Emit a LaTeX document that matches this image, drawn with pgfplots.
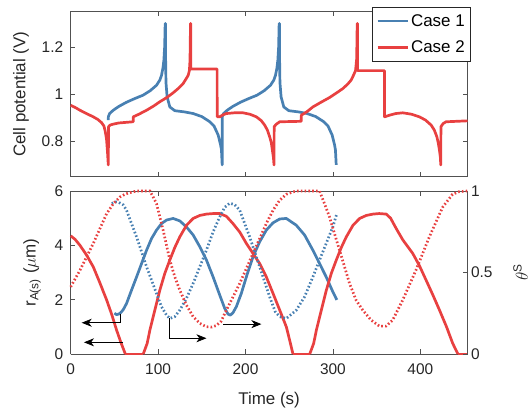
\documentclass[border=0pt]{standalone}
\usepackage{fontspec}
\setmainfont{Liberation Sans}
\usepackage{pgfplots}
\pgfplotsset{compat=1.18}
\usetikzlibrary{arrows.meta}

\definecolor{caseone}{RGB}{72,128,178}
\definecolor{casetwo}{RGB}{232,64,64}
\definecolor{axgray}{RGB}{38,38,38}

\pgfplotsset{
  matlab/.style={
    scale only axis, width=396.8bp, xmin=0, xmax=454,
    tick align=inside, major tick length=4.5bp,
    axis line style={axgray!80, line width=0.6bp},
    every tick/.style={axgray!80, line width=0.6bp},
    tick label style={font=\fontsize{15.5}{18}\selectfont, text=axgray},
    label style={font=\fontsize{17}{20}\selectfont, text=axgray},
    xticklabel style={yshift=-6bp},
    xlabel style={yshift=-11bp},
    /pgf/number format/assume math mode=true,
    xtick={0,100,...,400},
    clip=false,
  },
  cv/.style={line width=2.7bp, line join=round},
  dots/.style={line width=2.7bp, dash pattern=on 1.6bp off 2.2bp},
}
\tikzset{arr/.style={-{Stealth[length=10bp, width=8bp, inset=3bp]}, line width=0.7bp, black}}

\begin{document}
\begin{tikzpicture}
\path[use as bounding box] (0,0) rectangle (531bp,417bp);

% ---- top: cell potential
\begin{axis}[matlab, at={(70.7bp,240.3bp)}, anchor=south west, height=165bp,
  ymin=0.65, ymax=1.35, ytick={0.8,1,1.2}, xticklabels={},
  xtick pos=both, ytick pos=both,
  yticklabel style={xshift=-4bp},
  ylabel={Cell potential (V)}, ylabel style={yshift=6bp},
  legend style={at={(1.0088,1.0285)}, anchor=north east, draw=axgray,
    line width=0.6bp, font=\fontsize{17}{20}\selectfont, text=black,
    cells={anchor=west}, inner xsep=4bp, inner ysep=5bp, row sep=9bp},
  legend image code/.code={\draw[#1] (0bp,0bp) -- (30bp,0bp);},
]
\addplot[cv, caseone] coordinates {
  (43.0,0.89) (43.1,0.905) (44.5,0.918) (48.7,0.932) (55,0.948) (63.9,0.966)
  (73,0.981) (82.9,0.996) (91,1.015) (98.2,1.038) (102,1.06) (103.9,1.08)
  (105.5,1.11) (106.6,1.144) (107.5,1.2) (108.1,1.30) (108.4,1.30) (108.6,1.15)
  (109,1.05) (110.3,0.989) (113.4,0.946) (119.1,0.93) (130,0.925) (140.1,0.918)
  (150,0.905) (159.2,0.883) (164,0.865) (168.7,0.827) (171.5,0.785) (172.5,0.763)
  (173.3,0.70)
  (173.4,0.89) (173.5,0.905) (174.9,0.918) (179.1,0.932) (185.4,0.948) (194.3,0.966)
  (203.4,0.981) (213.3,0.996) (221.4,1.015) (228.6,1.038) (232.4,1.06) (234.3,1.08)
  (235.9,1.11) (237,1.144) (237.9,1.2) (238.5,1.30) (238.8,1.30) (239,1.15)
  (239.4,1.05) (240.7,0.989) (243.8,0.946) (249.5,0.93) (260.4,0.925) (270.5,0.918)
  (280.4,0.905) (289.6,0.883) (294.4,0.865) (299.1,0.827) (301.9,0.785) (302.9,0.763)
  (303.8,0.70)
};
\addlegendentry{Case 1}
\addplot[cv, casetwo] coordinates {
  (0,0.953) (5,0.944) (10.6,0.932) (18,0.918) (25.8,0.904) (31,0.893) (35.4,0.879)
  (38,0.865) (39.2,0.848) (40.3,0.825) (41.1,0.805) (42.2,0.749) (43,0.70)
  (43.3,0.862) (45,0.869) (48.7,0.873) (55,0.878) (71.5,0.883) (71.6,0.904)
  (78,0.915) (86.8,0.932) (95,0.95) (102,0.968) (110,0.986) (117.2,1.006) (123,1.024)
  (128.6,1.045) (132,1.065) (134.4,1.08) (135.8,1.1) (136.3,1.13) (136.8,1.2)
  (137,1.30) (137.3,1.30) (137.5,1.107) (167.5,1.107) (167.6,0.904) (170.5,0.904)
  (174,0.912) (178.1,0.918) (187,0.921) (197.2,0.921) (205,0.915) (212.4,0.904)
  (218,0.888) (221.9,0.869) (225,0.848) (227.6,0.82) (229.5,0.795) (230.7,0.763)
  (232,0.73) (232.6,0.70)
  (232.8,0.862) (235,0.872) (239.1,0.883) (263.8,0.885) (263.9,0.911) (270,0.925)
  (277.1,0.946) (286,0.965) (296.2,0.986) (304,1.005) (311.4,1.024) (317,1.043)
  (320.9,1.06) (323.5,1.08) (325.9,1.10) (327.2,1.15) (327.8,1.30) (328.1,1.30)
  (328.3,1.10) (359,1.10) (359.1,0.904) (364.8,0.911) (372,0.918) (380,0.921)
  (390,0.915) (399,0.904) (406,0.89) (412.4,0.869) (416,0.848) (418.9,0.82)
  (420.7,0.79) (421.9,0.763) (423,0.73) (423.4,0.70) (423.6,0.862) (426,0.875)
  (429.4,0.883) (454,0.887)
};
\addlegendentry{Case 2}
\end{axis}

% ---- bottom: radius (left axis)
\begin{axis}[matlab, at={(70.7bp,63bp)}, anchor=south west, height=163bp,
  ymin=0, ymax=6, ytick={0,2,4,6}, axis y line*=left, xtick pos=both,
  yticklabel style={xshift=-4bp},
  xlabel={Time (s)},
  ylabel={r\textsubscript{A(s)} ($\mu$m)}, ylabel style={yshift=7bp},
]
\addplot[cv, caseone] coordinates {
  (50,1.5) (52.5,1.45) (55,1.47) (57.5,1.53) (60.1,1.63) (63.9,1.86) (69.6,2.35)
  (75.4,2.84) (81.1,3.33) (86.8,3.82) (92.5,4.25) (98.2,4.56) (103.9,4.8)
  (109.6,4.93) (117.2,4.99) (124.8,4.9) (132.4,4.68) (140.1,4.38) (147.7,3.95)
  (155.3,3.46) (162.9,2.84) (170.5,2.17) (176.2,1.68) (180,1.47) (182.7,1.43)
  (185.7,1.52) (189.5,1.74) (195.2,2.23) (201,2.84) (208.6,3.58) (216.2,4.13)
  (223.8,4.56) (231.5,4.83) (239.1,4.97) (246.7,4.99) (258.1,4.74) (267.6,4.38)
  (277.1,3.82) (284.7,3.33) (292.3,2.84) (299.9,2.29) (304.5,1.99)
};
\addplot[cv, casetwo] coordinates {
  (0,4.35) (5,4.22) (10.6,4.0) (18,3.65) (25.8,3.21) (33,2.65) (41.1,1.99)
  (47,1.45) (52.5,0.88) (57.5,0.42) (62.5,0)
};
\addplot[cv, casetwo] coordinates {(62.5,0) (83,0)};
\addplot[cv, casetwo] coordinates {
  (83,0) (87.5,0.39) (90.6,0.88) (96.3,1.62) (102,2.35) (107.7,2.97) (113.4,3.46)
  (119.1,3.92) (124.8,4.31) (132.5,4.74) (140.1,4.99) (147.7,5.10) (155.3,5.15)
  (163,5.17) (170.5,5.17) (178.1,5.07) (185.7,4.8) (193.4,4.49) (201,4.07)
  (208.6,3.7) (216.2,3.33) (223.8,2.84) (231.5,2.23) (239.1,1.62) (246.7,1.0)
  (250.5,0.51) (254.3,0)
};
\addplot[cv, casetwo] coordinates {(254.3,0) (273.5,0)};
\addplot[cv, casetwo] coordinates {
  (273.5,0) (278,0.39) (281.1,0.88) (286.8,1.62) (292.5,2.35) (298.2,2.97)
  (303.9,3.46) (309.6,3.92) (315.3,4.31) (323,4.74) (330.6,4.99) (338.2,5.10)
  (345.8,5.15) (353,5.17) (361,5.15) (366,5.0) (372.4,4.62) (380,4.2) (391.4,3.7)
  (399,3.25) (406.6,2.72) (414,2.2) (421.9,1.62) (430,1.0) (437.1,0.39) (443,0)
};
\addplot[cv, casetwo] coordinates {(443,0) (454,0)};

\draw[arr] (axis cs:56.3,1.47) -- (axis cs:56.3,1.15) -- (axis cs:12.6,1.15);
\draw[arr] (axis cs:60.1,0.43) -- (axis cs:15.2,0.43);
\draw[arr] (axis cs:112.3,1.31) -- (axis cs:112.3,0.58) -- (axis cs:155.3,0.58);
\draw[arr] (axis cs:174.3,1.10) -- (axis cs:218.2,1.10);
\end{axis}

% ---- bottom: surface fraction (right axis)
\begin{axis}[matlab, at={(70.7bp,63bp)}, anchor=south west, height=163bp,
  ymin=0, ymax=1, ytick={0,0.5,1}, axis y line*=right, axis x line=none,
  ylabel={$\theta$\textsuperscript{S}}, ylabel style={yshift=-14bp},
]
\addplot[dots, caseone] coordinates {
  (47,0.923) (51.4,0.933) (55,0.93) (60.1,0.915) (63.9,0.882)
  (69.6,0.8) (75.4,0.718) (81.1,0.627) (86.8,0.535) (92.5,0.453) (98.2,0.371)
  (103.9,0.29) (109.6,0.239) (113.4,0.218) (119.1,0.229) (124.8,0.269)
  (132.4,0.341) (140.1,0.433) (147.7,0.535) (155.3,0.637) (162.9,0.749)
  (170.5,0.841) (176.2,0.9) (181.9,0.925) (187.6,0.916) (193.4,0.882) (199.1,0.8)
  (204.8,0.718) (216.2,0.535) (227.6,0.351) (234,0.26) (239.1,0.229) (246.7,0.218)
  (258.1,0.269) (267.6,0.351) (277.1,0.473) (284.7,0.576) (292.3,0.678)
  (299.9,0.78) (304.5,0.861)
};
\addplot[dots, casetwo] coordinates {
  (0,0.412) (10.6,0.514) (25.8,0.678) (41.1,0.861) (48.7,0.922) (56.3,0.963)
  (62,0.98) (67.7,0.99) (75.4,1) (90.6,1) (94.4,0.963) (98.2,0.922) (105.8,0.759)
  (113.4,0.576) (119.1,0.473) (124.8,0.392) (132.4,0.3) (140.1,0.229) (147.7,0.188)
  (155.3,0.167) (161,0.165) (166.7,0.175) (172,0.2) (178.1,0.269) (185.7,0.351)
  (193.4,0.433) (201,0.525) (208.6,0.617) (216.2,0.708) (223.8,0.8) (231.5,0.882)
  (239.1,0.943) (246.7,0.98) (254.3,0.995) (260,1) (284.7,1) (290.4,0.922)
  (296.1,0.841) (301.8,0.739) (307.6,0.637) (313.3,0.535) (319,0.433) (326.6,0.33)
  (334.2,0.269) (343.7,0.208) (353.2,0.171) (360.8,0.171) (368.4,0.208)
  (379.8,0.33) (395,0.514) (410.3,0.718) (425.5,0.9) (436.9,0.98) (444.5,0.996)
  (454,1)
};
\end{axis}
\end{tikzpicture}
\end{document}
